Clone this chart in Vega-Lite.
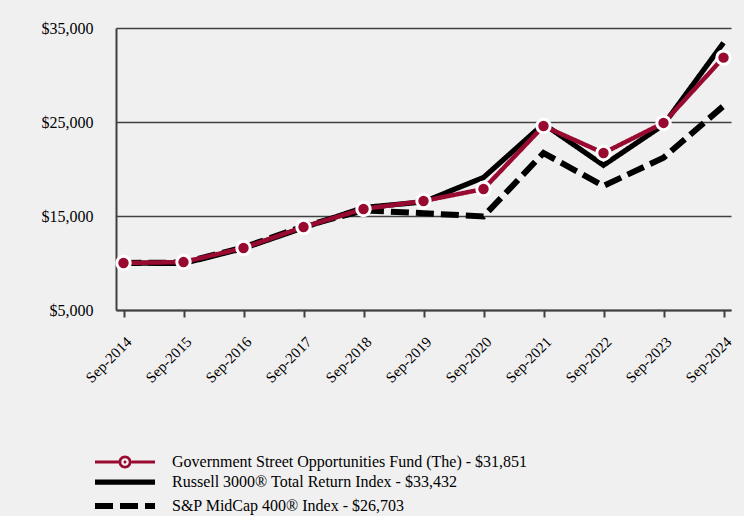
{
  "$schema": "https://vega.github.io/schema/vega-lite/v6.json",
  "width": 615,
  "height": 282,
  "autosize": {"type": "none"},
  "padding": {"left": 116, "top": 28, "right": 13, "bottom": 206},
  "background": "#f0f0f0",
  "config": {
    "view": {"stroke": null},
    "font": "Liberation Serif"
  },
  "data": {
    "values": [
      {"date": "Sep-2014", "series": "S&P MidCap 400® Index - $26,703", "value": 10000},
      {"date": "Sep-2015", "series": "S&P MidCap 400® Index - $26,703", "value": 10050},
      {"date": "Sep-2016", "series": "S&P MidCap 400® Index - $26,703", "value": 11650},
      {"date": "Sep-2017", "series": "S&P MidCap 400® Index - $26,703", "value": 13900},
      {"date": "Sep-2018", "series": "S&P MidCap 400® Index - $26,703", "value": 15600},
      {"date": "Sep-2019", "series": "S&P MidCap 400® Index - $26,703", "value": 15300},
      {"date": "Sep-2020", "series": "S&P MidCap 400® Index - $26,703", "value": 14950},
      {"date": "Sep-2021", "series": "S&P MidCap 400® Index - $26,703", "value": 21700},
      {"date": "Sep-2022", "series": "S&P MidCap 400® Index - $26,703", "value": 18200},
      {"date": "Sep-2023", "series": "S&P MidCap 400® Index - $26,703", "value": 21200},
      {"date": "Sep-2024", "series": "S&P MidCap 400® Index - $26,703", "value": 26703},
      {"date": "Sep-2014", "series": "Russell 3000® Total Return Index - $33,432", "value": 10000},
      {"date": "Sep-2015", "series": "Russell 3000® Total Return Index - $33,432", "value": 9950},
      {"date": "Sep-2016", "series": "Russell 3000® Total Return Index - $33,432", "value": 11550},
      {"date": "Sep-2017", "series": "Russell 3000® Total Return Index - $33,432", "value": 13750},
      {"date": "Sep-2018", "series": "Russell 3000® Total Return Index - $33,432", "value": 15900},
      {"date": "Sep-2019", "series": "Russell 3000® Total Return Index - $33,432", "value": 16500},
      {"date": "Sep-2020", "series": "Russell 3000® Total Return Index - $33,432", "value": 19100},
      {"date": "Sep-2021", "series": "Russell 3000® Total Return Index - $33,432", "value": 24800},
      {"date": "Sep-2022", "series": "Russell 3000® Total Return Index - $33,432", "value": 20400},
      {"date": "Sep-2023", "series": "Russell 3000® Total Return Index - $33,432", "value": 24700},
      {"date": "Sep-2024", "series": "Russell 3000® Total Return Index - $33,432", "value": 33432},
      {"date": "Sep-2014", "series": "Government Street Opportunities Fund (The) - $31,851", "value": 10000},
      {"date": "Sep-2015", "series": "Government Street Opportunities Fund (The) - $31,851", "value": 10100},
      {"date": "Sep-2016", "series": "Government Street Opportunities Fund (The) - $31,851", "value": 11600},
      {"date": "Sep-2017", "series": "Government Street Opportunities Fund (The) - $31,851", "value": 13830},
      {"date": "Sep-2018", "series": "Government Street Opportunities Fund (The) - $31,851", "value": 15750},
      {"date": "Sep-2019", "series": "Government Street Opportunities Fund (The) - $31,851", "value": 16600},
      {"date": "Sep-2020", "series": "Government Street Opportunities Fund (The) - $31,851", "value": 17870},
      {"date": "Sep-2021", "series": "Government Street Opportunities Fund (The) - $31,851", "value": 24570},
      {"date": "Sep-2022", "series": "Government Street Opportunities Fund (The) - $31,851", "value": 21700},
      {"date": "Sep-2023", "series": "Government Street Opportunities Fund (The) - $31,851", "value": 24900},
      {"date": "Sep-2024", "series": "Government Street Opportunities Fund (The) - $31,851", "value": 31851}
    ]
  },
  "encoding": {
    "x": {
      "field": "date",
      "type": "ordinal",
      "sort": null,
      "scale": {"type": "point", "padding": 0.125},
      "axis": {
        "title": null,
        "labelAngle": -45,
        "labelAlign": "right",
        "labelBaseline": "top",
        "labelFont": "Liberation Serif",
        "labelFontSize": 15,
        "labelColor": "#000000",
        "labelPadding": 17,
        "tickColor": "#404040",
        "tickSize": 7,
        "tickWidth": 2,
        "domainColor": "#404040",
        "domainWidth": 2,
        "grid": false
      }
    },
    "y": {
      "field": "value",
      "type": "quantitative",
      "scale": {"domain": [5000, 35000], "nice": false, "zero": false},
      "axis": {
        "title": null,
        "values": [5000, 15000, 25000, 35000],
        "format": "$,.0f",
        "labelFont": "Liberation Serif",
        "labelFontSize": 16,
        "labelColor": "#000000",
        "labelPadding": 23,
        "ticks": false,
        "domainColor": "#404040",
        "domainWidth": 2,
        "grid": true,
        "gridColor": "#404040",
        "gridWidth": 1.5
      }
    }
  },
  "layer": [
    {
      "mark": {"type": "line", "strokeCap": "butt", "strokeJoin": "miter"},
      "encoding": {
        "color": {
          "field": "series",
          "type": "nominal",
          "scale": {
            "domain": [
              "Government Street Opportunities Fund (The) - $31,851",
              "Russell 3000® Total Return Index - $33,432",
              "S&P MidCap 400® Index - $26,703"
            ],
            "range": ["#990a31", "#000000", "#000000"]
          },
          "legend": {
            "title": null,
            "orient": "none",
            "legendX": 1,
            "legendY": 426,
            "padding": 0,
            "direction": "vertical",
            "symbolType": "M-6,0H6",
            "symbolSize": 100,
            "labelFont": "Liberation Serif",
            "labelFontSize": 16,
            "labelColor": "#000000",
            "labelOffset": 39,
            "rowPadding": 1,
            "labelLimit": 500,
            "encode": {
              "symbols": {
                "update": {
                  "shape": {"signal": "indexof(datum.value, 'Government') === 0 ? 'M-6,-0.3H-1.3V0.3H-6Z M1.3,-0.3H6V0.3H1.3Z M1.3,0A1.3,1.3 0 1 1 -1.3,0A1.3,1.3 0 1 1 1.3,0Z M0.75,0A0.75,0.75 0 1 0 -0.75,0A0.75,0.75 0 1 0 0.75,0Z M0.3,0A0.3,0.3 0 1 1 -0.3,0A0.3,0.3 0 1 1 0.3,0Z' : 'M-6,0H6'"},
                  "fill": {"signal": "indexof(datum.value, 'Government') === 0 ? '#990a31' : 'transparent'"},
                  "strokeOpacity": {"signal": "indexof(datum.value, 'Government') === 0 ? 0 : 1"}
                }
              }
            }
          }
        },
        "strokeDash": {
          "field": "series",
          "type": "nominal",
          "scale": {
            "domain": [
              "Government Street Opportunities Fund (The) - $31,851",
              "Russell 3000® Total Return Index - $33,432",
              "S&P MidCap 400® Index - $26,703"
            ],
            "range": [[1, 0], [1, 0], [18, 7]]
          }
        },
        "strokeWidth": {
          "field": "series",
          "type": "nominal",
          "scale": {
            "domain": [
              "Government Street Opportunities Fund (The) - $31,851",
              "Russell 3000® Total Return Index - $33,432",
              "S&P MidCap 400® Index - $26,703"
            ],
            "range": [4.5, 6, 5]
          }
        }
      }
    },
    {
      "transform": [{"filter": "indexof(datum.series, 'Government') === 0"}],
      "mark": {"type": "point", "filled": true, "shape": "circle", "size": 180, "fill": "#990a31", "stroke": "#ffffff", "strokeWidth": 3, "opacity": 1}
    }
  ]
}
